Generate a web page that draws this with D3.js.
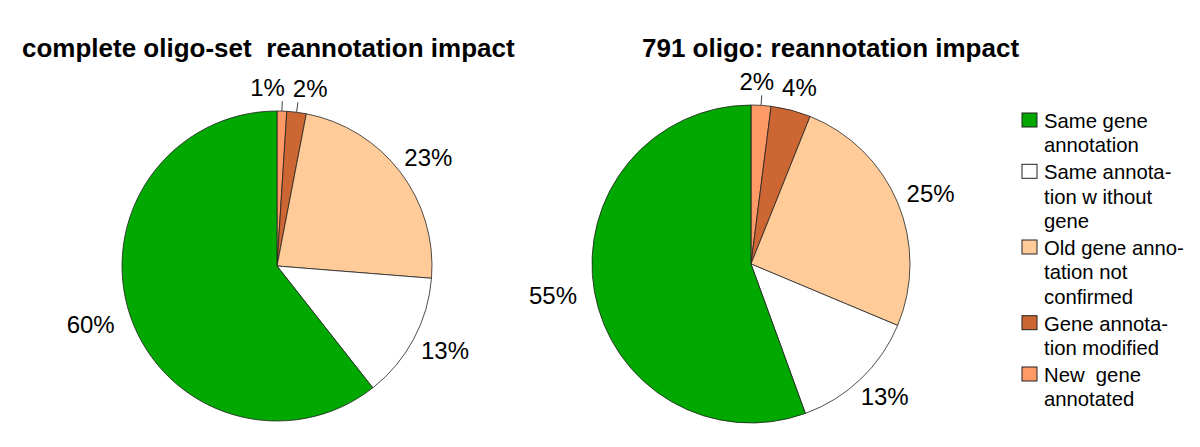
<!DOCTYPE html>
<html>
<head>
<meta charset="utf-8">
<title>reannotation impact</title>
<script src="https://cdn.jsdelivr.net/npm/d3@7"></script>
<style>
  body { margin: 0; background: #fff; }
  svg { display: block; font-family: "Liberation Sans", Arial, sans-serif; }
  .title { font-size: 26px; font-weight: bold; white-space: pre; }
  .lbl { font-size: 24px; }
  .legend text { font-size: 20.3px; white-space: pre; }
</style>
</head>
<body>
<svg width="1200" height="447"></svg>
<script>
// legend order
var categories = ["Same gene annotation", "Same annotation without gene", "Old gene annotation not confirmed", "Gene annotation modified", "New gene annotated"];
var legendLines = [["Same gene", "annotation"], ["Same annota-", "tion w ithout", "gene"], ["Old gene anno-", "tation not", "confirmed"], ["Gene annota-", "tion modified"], ["New  gene", "annotated"]];
var colors = ["#00a800", "#ffffff", "#ffcc99", "#cc6633", "#ff9966"];

// percentages per category, same order as categories
var completeValues = [60, 13, 23, 2, 1];
var oligo791Values = [55, 13, 25, 4, 2];

var titles = ["complete oligo-set  reannotation impact", "791 oligo: reannotation impact"];

var svg = d3.select("svg");

var pies = [
  {title: titles[0], values: completeValues, cx: 277, cy: 266, r: 155, tx: 22},
  {title: titles[1], values: oligo791Values, cx: 751, cy: 264, r: 159, tx: 642}
];

// slices go clockwise from 12 o'clock in reverse legend order
var pie = d3.pie().sort(null).value(function(d) { return d.value; });

pies.forEach(function(p) {
  svg.append("text")
    .attr("class", "title")
    .attr("x", p.tx)
    .attr("y", 57)
    .text(p.title);

  var rows = categories.map(function(c, i) { return {name: c, value: p.values[i], color: colors[i]}; }).reverse();
  var arcs = pie(rows);
  var arc = d3.arc().innerRadius(0).outerRadius(p.r);

  var g = svg.append("g").attr("transform", "translate(" + p.cx + "," + p.cy + ")");

  g.selectAll("path").data(arcs).enter().append("path")
    .attr("d", arc)
    .attr("fill", function(d) { return d.data.color; })
    .attr("stroke", "#222")
    .attr("stroke-width", 0.8);

  // labels, placed outside the rim then pushed apart if they touch
  var capH = 17, R = p.r + 15;
  var labels = arcs.map(function(d) {
    var a = (d.startAngle + d.endAngle) / 2;
    var t = g.append("text").attr("class", "lbl").attr("text-anchor", "middle").text(d.data.value + "%");
    var w = t.node().getComputedTextLength();
    return {d: d, a: a, t: t, w: w,
      x: R * Math.sin(a) + w / 2 * Math.sin(a),
      y: -R * Math.cos(a) - capH / 2 * Math.cos(a)};
  });

  for (var k = 0; k < 50; k++) {
    for (var i = 0; i < labels.length; i++) {
      for (var j = i + 1; j < labels.length; j++) {
        var A = labels[i], B = labels[j];
        var need = (A.w + B.w) / 2 + 8;
        if (Math.abs(A.y - B.y) < capH + 4 && Math.abs(A.x - B.x) < need) {
          var push = (need - Math.abs(A.x - B.x)) / 2;
          var s = A.x <= B.x ? 1 : -1;
          A.x -= push * s; B.x += push * s;
        }
      }
    }
  }

  labels.forEach(function(l) {
    l.t.attr("x", l.x - 3).attr("y", l.y + capH / 2);
    if (l.d.data.value <= 2) {
      g.append("line")
        .attr("x1", p.r * Math.sin(l.a)).attr("y1", -p.r * Math.cos(l.a))
        .attr("x2", (p.r + 10) * Math.sin(l.a)).attr("y2", -(p.r + 10) * Math.cos(l.a))
        .attr("stroke", "#444").attr("stroke-width", 1);
    }
  });
});

// legend
var legend = svg.append("g").attr("class", "legend").attr("transform", "translate(1022,113)");
var lineH = 24.4, gap = 2.5, y = 0;
categories.forEach(function(c, i) {
  var item = legend.append("g").attr("transform", "translate(0," + y + ")");
  item.append("rect")
    .attr("width", 15).attr("height", 14)
    .attr("fill", colors[i])
    .attr("stroke", "#222").attr("stroke-width", 1);
  legendLines[i].forEach(function(line, n) {
    item.append("text")
      .attr("x", 22)
      .attr("y", 15 + n * lineH)
      .text(line);
  });
  y += legendLines[i].length * lineH + gap;
});
</script>
</body>
</html>
